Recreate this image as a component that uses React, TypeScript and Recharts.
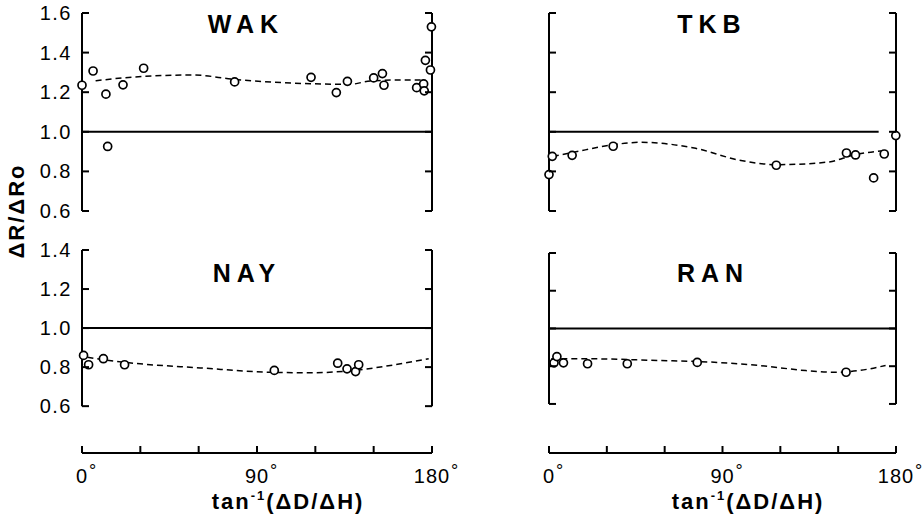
import React from 'react';
import { ComposedChart, Scatter, Line, XAxis, YAxis, ReferenceLine } from 'recharts';

const FONT = '"Liberation Sans", Arial, sans-serif';

// ---- axes ----
const xTicks = [0, 30, 60, 90, 120, 150, 180];
const xLabelTicks = [0, 90, 180];
const topYTicks = [0.6, 0.8, 1.0, 1.2, 1.4, 1.6];
const bottomYTicks = [0.6, 0.8, 1.0, 1.2, 1.4];
const stationNames = ['WAK', 'TKB', 'NAY', 'RAN'];
const yTitle = 'ΔR/ΔRo';

// ---- WAK ----
const wakAngle = [0, 5.7, 12.3, 13.2, 21.1, 31.7, 78.5, 117.8, 130.8, 136.5, 150, 154.5, 155.3, 172.1, 175.7, 176, 176.6, 179.2, 179.7];
const wakRatio = [1.235, 1.307, 1.19, 0.926, 1.237, 1.321, 1.252, 1.275, 1.198, 1.255, 1.272, 1.294, 1.235, 1.223, 1.242, 1.207, 1.361, 1.312, 1.53];
const wakFitAngle = [7, 31.7, 57.4, 78, 117.4, 138, 148.3, 165, 175];
const wakFitRatio = [1.258, 1.28, 1.287, 1.265, 1.243, 1.24, 1.257, 1.262, 1.262];

// ---- TKB ----
const tkbAngle = [0, 1.7, 12, 33.3, 117.9, 154.3, 159, 168.4, 173.9, 179.9];
const tkbRatio = [0.784, 0.876, 0.881, 0.927, 0.831, 0.893, 0.883, 0.767, 0.888, 0.981];
const tkbFitAngle = [2, 12, 33.4, 47.5, 75.3, 99.6, 118.6, 144.6, 159, 173.4];
const tkbFitRatio = [0.876, 0.895, 0.935, 0.947, 0.918, 0.855, 0.834, 0.847, 0.885, 0.905];

// ---- NAY ----
const nayAngle = [0.8, 3.4, 11, 21.9, 98.9, 131.5, 136.3, 140.7, 142.3];
const nayRatio = [0.86, 0.812, 0.843, 0.812, 0.783, 0.82, 0.791, 0.777, 0.812];
const nayFitAngle = [2.8, 11, 26.5, 60.9, 95.2, 117.5, 139.7, 163.8, 178.3];
const nayFitRatio = [0.851, 0.838, 0.82, 0.796, 0.774, 0.771, 0.783, 0.817, 0.843];

// ---- RAN ----
const ranAngle = [2.6, 4.1, 7.5, 20, 40.6, 76.9, 154.1];
const ranRatio = [0.818, 0.851, 0.818, 0.813, 0.813, 0.82, 0.768];
const ranFitAngle = [1.2, 22.8, 57.3, 74.6, 109, 133.2, 148.7, 160.8, 174.6];
const ranFitRatio = [0.839, 0.839, 0.83, 0.826, 0.804, 0.777, 0.768, 0.777, 0.804];

type Pt = { x: number; y: number };
const toPoints = (xs: number[], ys: number[]): Pt[] => xs.map((x, i) => ({ x, y: ys[i] }));

interface PanelProps {
  left: number;
  top: number;
  width: number;
  height: number;
  margin: { top: number; right: number; bottom: number; left: number };
  yAxisWidth: number;
  domain: [number, number];
  yTicks: number[];
  axisTop: number;
  showYLabels: boolean;
  points: Pt[];
  fit: Pt[];
  refEnd: number;
  showXAxis: boolean;
  xAxisHeight: number;
}

const TICK_MARGIN = 10;

function Panel(p: PanelProps) {
  const plotW = p.width - p.margin.left - p.margin.right - p.yAxisWidth;
  const renderYTick = (t: any) => {
    const ax = t.x + TICK_MARGIN;
    const v = t.payload.value as number;
    return (
      <g>
        <line x1={ax} x2={ax + 7} y1={t.y} y2={t.y} stroke="#000" strokeWidth={2} />
        <line x1={ax + plotW - 7} x2={ax + plotW} y1={t.y} y2={t.y} stroke="#000" strokeWidth={2} />
        {p.showYLabels && (
          <text x={t.x} y={t.y + 7} textAnchor="end" fontSize={20} fontFamily={FONT} fill="#000" letterSpacing={1.5}>
            {v.toFixed(1)}
          </text>
        )}
      </g>
    );
  };
  const renderXTick = (t: any) => {
    const v = t.payload.value as number;
    const show = xLabelTicks.includes(v);
    const label = String(v);
    return (
      <g>
        <line x1={t.x} x2={t.x} y1={t.y} y2={t.y - 7} stroke="#000" strokeWidth={2} />
        {show && (
          <text x={t.x} y={t.y + 30} textAnchor="middle" fontSize={20} fontFamily={FONT} fill="#000" letterSpacing={1}>
            {label}
          </text>
        )}
        {show && (
          <text x={t.x + label.length * 6 + 1} y={t.y + 24} textAnchor="start" fontSize={18} fontFamily={FONT} fill="#000">
            °
          </text>
        )}
      </g>
    );
  };
  return (
    <div style={{ position: 'absolute', left: p.left, top: p.top }}>
      <ComposedChart width={p.width} height={p.height} margin={p.margin}>
        {p.showXAxis ? (
          <XAxis
            dataKey="x"
            type="number"
            domain={[0, 180]}
            ticks={xTicks}
            interval={0}
            height={p.xAxisHeight}
            tickSize={0}
            tickMargin={0}
            tickLine={false}
            axisLine={{ stroke: '#000', strokeWidth: 2 }}
            tick={renderXTick}
          />
        ) : (
          <XAxis dataKey="x" type="number" domain={[0, 180]} hide />
        )}
        <YAxis
          dataKey="y"
          type="number"
          domain={p.domain}
          ticks={p.yTicks}
          interval={0}
          width={p.yAxisWidth}
          axisLine={false}
          tickLine={false}
          tickSize={0}
          tickMargin={TICK_MARGIN}
          tick={renderYTick}
        />
        <ReferenceLine segment={[{ x: 0, y: 0.6 }, { x: 0, y: p.axisTop }]} stroke="#000" strokeWidth={2} />
        <ReferenceLine segment={[{ x: 180, y: 0.6 }, { x: 180, y: p.axisTop }]} stroke="#000" strokeWidth={2} />
        <ReferenceLine segment={[{ x: 0, y: 1 }, { x: p.refEnd, y: 1 }]} stroke="#000" strokeWidth={2} />
        <Line
          data={p.fit}
          dataKey="y"
          type="monotone"
          stroke="#000"
          strokeWidth={1.5}
          strokeDasharray="6 4"
          dot={false}
          activeDot={false}
          isAnimationActive={false}
        />
        <Scatter
          data={p.points}
          dataKey="y"
          isAnimationActive={false}
          shape={(s: any) => <circle cx={s.cx} cy={s.cy} r={4} fill="#fff" stroke="#000" strokeWidth={1.7} />}
        />
      </ComposedChart>
    </div>
  );
}

export default function App() {
  const titleStyle = { fontSize: 25, fontWeight: 700, fontFamily: FONT, letterSpacing: 6 } as const;
  return (
    <div style={{ position: 'absolute', left: 0, top: 0, width: 924, height: 518, background: '#fff', overflow: 'hidden' }}>
      <Panel
        left={0}
        top={0}
        width={460}
        height={240}
        margin={{ top: 13, right: 28, bottom: 29, left: 0 }}
        yAxisWidth={82}
        domain={[0.6, 1.6]}
        yTicks={topYTicks}
        axisTop={1.6}
        showYLabels
        points={toPoints(wakAngle, wakRatio)}
        fit={toPoints(wakFitAngle, wakFitRatio)}
        refEnd={180}
        showXAxis={false}
        xAxisHeight={0}
      />
      <Panel
        left={460}
        top={0}
        width={464}
        height={240}
        margin={{ top: 13, right: 28, bottom: 29, left: 0 }}
        yAxisWidth={89}
        domain={[0.6, 1.6]}
        yTicks={topYTicks}
        axisTop={1.6}
        showYLabels={false}
        points={toPoints(tkbAngle, tkbRatio)}
        fit={toPoints(tkbFitAngle, tkbFitRatio)}
        refEnd={171}
        showXAxis={false}
        xAxisHeight={0}
      />
      <Panel
        left={0}
        top={240}
        width={460}
        height={278}
        margin={{ top: 10, right: 28, bottom: 0, left: 0 }}
        yAxisWidth={82}
        domain={[0.36, 1.4]}
        yTicks={bottomYTicks}
        axisTop={1.4}
        showYLabels
        points={toPoints(nayAngle, nayRatio)}
        fit={toPoints(nayFitAngle, nayFitRatio)}
        refEnd={180}
        showXAxis
        xAxisHeight={65}
      />
      <Panel
        left={460}
        top={240}
        width={464}
        height={278}
        margin={{ top: 13, right: 28, bottom: 0, left: 0 }}
        yAxisWidth={89}
        domain={[0.34, 1.4]}
        yTicks={bottomYTicks}
        axisTop={1.4}
        showYLabels={false}
        points={toPoints(ranAngle, ranRatio)}
        fit={toPoints(ranFitAngle, ranFitRatio)}
        refEnd={180}
        showXAxis
        xAxisHeight={65}
      />
      <svg width={924} height={518} style={{ position: 'absolute', left: 0, top: 0, pointerEvents: 'none' }}>
        <text x={246} y={33} textAnchor="middle" {...titleStyle}>{stationNames[0]}</text>
        <text x={712} y={33} textAnchor="middle" {...titleStyle}>{stationNames[1]}</text>
        <text x={247} y={282} textAnchor="middle" {...titleStyle}>{stationNames[2]}</text>
        <text x={713} y={282} textAnchor="middle" {...titleStyle}>{stationNames[3]}</text>
        <text
          x={0}
          y={0}
          transform="translate(24, 211) rotate(-90)"
          textAnchor="middle"
          fontSize={22}
          fontWeight={700}
          fontFamily={FONT}
          letterSpacing={2}
        >
          {yTitle}
        </text>
        <text x={288} y={509} textAnchor="middle" fontSize={22} fontWeight={700} fontFamily={FONT} letterSpacing={2}>
          tan<tspan fontSize={13} dy={-9}>-1</tspan><tspan dy={9}>(ΔD/ΔH)</tspan>
        </text>
        <text x={748} y={509} textAnchor="middle" fontSize={22} fontWeight={700} fontFamily={FONT} letterSpacing={2}>
          tan<tspan fontSize={13} dy={-9}>-1</tspan><tspan dy={9}>(ΔD/ΔH)</tspan>
        </text>
      </svg>
    </div>
  );
}
